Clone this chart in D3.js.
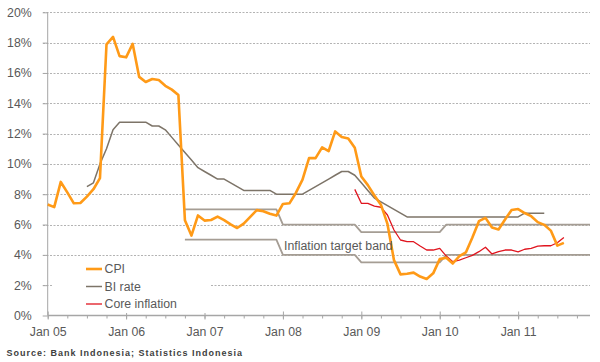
<!DOCTYPE html>
<html>
<head>
<meta charset="utf-8">
<script src="https://cdn.jsdelivr.net/npm/d3@7"></script>
<style>
  body { margin: 0; background: #fff; }
  svg { display: block; font-family: Arial, "Liberation Sans", sans-serif; }
  .axis text { fill: #595959; font-size: 12.3px; }
  .grid line { stroke: #b3b3b3; stroke-dasharray: 2,1.5; }
</style>
</head>
<body>
<svg width="600" height="362"></svg>
<script>
// monthly series, index 0 = Jan 05
var tickLabels = ["Jan 05", "Jan 06", "Jan 07", "Jan 08", "Jan 09", "Jan 10", "Jan 11"]
var yTicks = [0, 2, 4, 6, 8, 10, 12, 14, 16, 18, 20]

var cpi = [
  7.32, 7.15, 8.81, 8.12, 7.40, 7.42, 7.84, 8.33, 9.06, 17.89, 18.38, 17.11,
  17.03, 17.92, 15.74, 15.40, 15.60, 15.53, 15.15, 14.90, 14.55, 6.29, 5.27, 6.60,
  6.26, 6.30, 6.52, 6.29, 6.01, 5.77, 6.06, 6.51, 6.95, 6.88, 6.71, 6.59,
  7.36, 7.40, 8.10, 8.96, 10.38, 10.38, 11.09, 10.85, 12.14, 11.77, 11.68, 11.06,
  9.17, 8.60, 7.92, 7.31, 6.04, 3.65, 2.71, 2.75, 2.83, 2.57, 2.41, 2.78,
  3.72, 3.81, 3.43, 3.91, 4.16, 5.15, 6.22, 6.44, 5.80, 5.67, 6.33, 6.96,
  7.02, 6.76, 6.55, 6.16, 5.98, 5.60, 4.61, 4.79
]

// BI rate starts Jul 05
var biStart = 6
var biRate = [
  8.5, 8.75, 10.0, 11.0, 12.25, 12.75,
  12.75, 12.75, 12.75, 12.75, 12.5, 12.5, 12.25, 11.75, 11.25, 10.75, 10.25, 9.75,
  9.5, 9.25, 9.0, 9.0, 8.75, 8.5, 8.25, 8.25, 8.25, 8.25, 8.25, 8.0,
  8.0, 8.0, 8.0, 8.0, 8.25, 8.5, 8.75, 9.0, 9.25, 9.5, 9.5, 9.25,
  8.75, 8.25, 7.75, 7.5, 7.25, 7.0, 6.75, 6.5, 6.5, 6.5, 6.5, 6.5,
  6.5, 6.5, 6.5, 6.5, 6.5, 6.5, 6.5, 6.5, 6.5, 6.5, 6.5, 6.5,
  6.5, 6.75, 6.75, 6.75, 6.75
]

// core inflation starts Dec 08
var coreStart = 47
var coreInflation = [
  8.32,
  7.4, 7.4, 7.22, 7.14, 6.63, 5.64, 4.98, 4.87, 4.87, 4.58, 4.32, 4.32,
  4.43, 3.92, 3.55, 3.66, 3.81, 3.97, 4.21, 4.5, 4.06, 4.21, 4.32, 4.32,
  4.2, 4.37, 4.43, 4.58, 4.6, 4.6, 4.8, 5.15
]

// inflation target band, starts Oct 06
var bandStart = 21
var bandUpper = [
  7, 7, 7,
  7, 7, 7, 7, 7, 7, 7, 7, 7, 7, 7, 7,
  6, 6, 6, 6, 6, 6, 6, 6, 6, 6, 6, 6,
  5.5, 5.5, 5.5, 5.5, 5.5, 5.5, 5.5, 5.5, 5.5, 5.5, 5.5, 5.5,
  5.5, 6, 6, 6, 6, 6, 6, 6, 6, 6, 6, 6,
  6, 6, 6, 6, 6, 6, 6, 6, 6, 6, 6, 6
]
var bandLower = [
  5, 5, 5,
  5, 5, 5, 5, 5, 5, 5, 5, 5, 5, 5, 5,
  4, 4, 4, 4, 4, 4, 4, 4, 4, 4, 4, 4,
  3.5, 3.5, 3.5, 3.5, 3.5, 3.5, 3.5, 3.5, 3.5, 3.5, 3.5, 3.5,
  3.5, 4, 4, 4, 4, 4, 4, 4, 4, 4, 4, 4,
  4, 4, 4, 4, 4, 4, 4, 4, 4, 4, 4, 4
]

var svg = d3.select('svg')

var x = d3.scaleLinear().domain([0, 83]).range([47.7, 590])
var y = d3.scaleLinear().domain([0, 20]).range([315.5, 12.3])

function series(values, start) {
  return values.map(function(v, i) { return {m: start + i, v: v} })
}

// gridlines
svg.append('g')
  .attr('class', 'grid')
  .selectAll('line')
  .data(yTicks.filter(function(d) { return d > 0 }))
  .enter()
  .append('line')
  .attr('x1', 43)
  .attr('x2', 590)
  .attr('y1', function(d) { return Math.round(y(d)) + 0.5 })
  .attr('y2', function(d) { return Math.round(y(d)) + 0.5 })

// y axis
var yAxis = svg.append('g')
  .attr('class', 'axis')
  .attr('transform', 'translate(47.7,0)')
  .call(d3.axisLeft(y).tickValues(yTicks).tickSize(5).tickPadding(11)
    .tickFormat(function(d) { return d + '%' }))
yAxis.selectAll('line').attr('stroke', '#a6a6a6')
yAxis.select('.domain').attr('stroke', '#a6a6a6').attr('d', 'M0,' + y(20) + 'V' + y(0))

// x axis: minor ticks each quarter, major each January
var quarters = d3.range(0, 84, 3)
var minor = svg.append('g')
  .attr('transform', 'translate(0,' + y(0) + ')')
  .call(d3.axisBottom(x).tickValues(quarters).tickSize(3).tickFormat(''))
minor.selectAll('line').attr('stroke', '#a6a6a6')
minor.select('.domain').attr('stroke', '#a6a6a6').attr('stroke-width', 1.5).attr('d', 'M' + x(0) + ',0H' + x(83))

var major = svg.append('g')
  .attr('class', 'axis')
  .attr('transform', 'translate(0,' + (y(0) - 4) + ')')
  .call(d3.axisBottom(x).tickValues(tickLabels.map(function(d, i) { return i * 12 }))
    .tickSize(8).tickPadding(8)
    .tickFormat(function(d, i) { return tickLabels[i] }))
major.select('.domain').remove()
major.selectAll('line').attr('stroke', '#a6a6a6')

// lines
var line = d3.line()
  .x(function(d) { return x(d.m) })
  .y(function(d) { return y(d.v) })

function drawLine(data, color, width) {
  svg.append('path')
    .datum(data)
    .attr('fill', 'none')
    .attr('stroke', color)
    .attr('stroke-width', width)
    .attr('stroke-linejoin', 'round')
    .attr('d', line)
}

drawLine(series(bandUpper, bandStart), '#a59d94', 1.8)
drawLine(series(bandLower, bandStart), '#a59d94', 1.8)
drawLine(series(biRate, biStart), '#7d7468', 1.5)
drawLine(series(coreInflation, coreStart), '#e0151f', 1.3)
drawLine(series(cpi, 0), '#ff9a17', 2.6)

svg.append('text')
  .attr('x', 284)
  .attr('y', 250)
  .attr('fill', '#595959')
  .style('font-size', '12.3px')
  .text('Inflation target band')

// legend
var legendItems = [
  {name: 'CPI', color: '#ff9a17', width: 2.6},
  {name: 'BI rate', color: '#7d7468', width: 1.5},
  {name: 'Core inflation', color: '#e0151f', width: 1.3}
]
var legend = svg.append('g')
legend.append('rect')
  .attr('x', 53).attr('y', 259).attr('width', 157).attr('height', 54)
  .attr('fill', '#fff')
var item = legend.selectAll('g.item')
  .data(legendItems)
  .enter()
  .append('g')
  .classed('item', true)
  .attr('transform', function(d, i) { return 'translate(0,' + (269 + i * 17.5) + ')' })
item.append('line')
  .attr('x1', 86).attr('x2', 102)
  .attr('stroke', function(d) { return d.color })
  .attr('stroke-width', function(d) { return d.width })
item.append('text')
  .attr('x', 104.5)
  .attr('dy', '0.36em')
  .attr('fill', '#595959')
  .style('font-size', '12.3px')
  .text(function(d) { return d.name })

svg.append('text')
  .attr('x', 6.5)
  .attr('y', 356)
  .attr('fill', '#404040')
  .style('font-size', '9px')
  .style('font-weight', 'bold')
  .style('letter-spacing', '1px')
  .text('Source: Bank Indonesia; Statistics Indonesia')
</script>
</body>
</html>
